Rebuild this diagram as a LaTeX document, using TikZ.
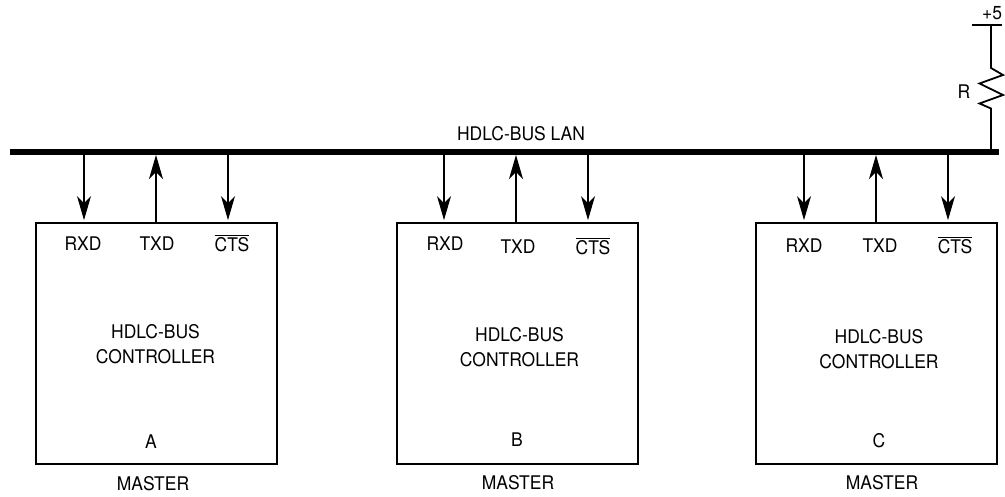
\documentclass[tikz,border=0pt]{standalone}
\usepackage{fontspec}
\setmainfont[FakeStretch=0.93]{TeX Gyre Heros}
\usepackage{amsmath}
\usetikzlibrary{arrows.meta,positioning}

\begin{document}
\begin{tikzpicture}[
            x=0.5pt, y=-0.5pt,
            ctrl/.style={draw, line width=1pt, minimum width=120.5pt, minimum height=120.5pt, inner sep=0pt},
            lbl/.style={inner sep=0pt, font=\fontsize{9.4}{12.5}\selectfont, align=center},
            busline/.style={fill=black, inner sep=0pt, minimum width=494.5pt, minimum height=2.6pt},
            arr/.style={-{Stealth[length=12pt, width=7pt, inset=3.5pt]}, line width=0.55pt},
            arrd/.style={arr, shorten >=0.7pt},
            wire/.style={line width=0.75pt}
        ]
            \useasboundingbox (0,0) rectangle (1005,497);
            % bus and pull-up
            \node[busline] (bus) at (504.5,152) {};
            \node[lbl] (lan) at (521,134) {HDLC-BUS LAN};
            \node[lbl] (vcc) at (992,13) {+5};
            \node[lbl] (rlabel) at (964,92) {R};
            \coordinate (railL) at (972,25);
            \coordinate (railR) at (1002,25);
            \coordinate (rtop) at (991,25);
            \coordinate (rbot) at (991,150);
            \draw[wire] (railL) -- (railR);
            \draw[wire, line width=0.9pt] (rtop) -- (991,68) -- (1003,75) -- (979.5,83.5) -- (1003,95) -- (979.5,103.5) -- (991,108.5) -- (rbot);
            % controller boxes
            \node[ctrl] (boxA) at (156.5,343) {};
            \node[ctrl] (boxB) at (517,343) {};
            \node[ctrl] (boxC) at (876.5,343) {};
            \node[lbl] (rxdA) at (83,244)  {RXD};
            \node[lbl] (txdA) at (157,244) {TXD};
            \node[lbl] (ctsA) at (232,243) {$\overline{\mbox{CTS}}$};
            \node[lbl] (rxdB) at (445,244) {RXD};
            \node[lbl] (txdB) at (518,247) {TXD};
            \node[lbl] (ctsB) at (593,246) {$\overline{\mbox{CTS}}$};
            \node[lbl] (rxdC) at (804,246) {RXD};
            \node[lbl] (txdC) at (880,246) {TXD};
            \node[lbl] (ctsC) at (955,245) {$\overline{\mbox{CTS}}$};
            \node[lbl] (nameA) at (155.5,344) {HDLC-BUS\\CONTROLLER};
            \node[lbl] (nameB) at (519.5,347.5) {HDLC-BUS\\CONTROLLER};
            \node[lbl] (nameC) at (879,349) {HDLC-BUS\\CONTROLLER};
            \node[lbl] (idA) at (151,442) {A};
            \node[lbl] (idB) at (517,440) {B};
            \node[lbl] (idC) at (879,441) {C};
            \node[lbl] (masterA) at (153,484) {MASTER};
            \node[lbl] (masterB) at (518,483) {MASTER};
            \node[lbl] (masterC) at (882,483) {MASTER};
            % signal arrows
            \coordinate (pinA1) at (84,223);
            \coordinate (pinA2) at (156,223);
            \coordinate (pinA3) at (228,223);
            \coordinate (pinB1) at (444,223);
            \coordinate (pinB2) at (516,223);
            \coordinate (pinB3) at (588,223);
            \coordinate (pinC1) at (804,223);
            \coordinate (pinC2) at (876,223);
            \coordinate (pinC3) at (948,223);
            \draw[arrd] (pinA1 |- bus.south) -- (pinA1 |- boxA.north);
            \draw[arr]  (pinA2 |- boxA.north) -- (pinA2 |- bus.south);
            \draw[arrd] (pinA3 |- bus.south) -- (pinA3 |- boxA.north);
            \draw[arrd] (pinB1 |- bus.south) -- (pinB1 |- boxB.north);
            \draw[arr]  (pinB2 |- boxB.north) -- (pinB2 |- bus.south);
            \draw[arrd] (pinB3 |- bus.south) -- (pinB3 |- boxB.north);
            \draw[arrd] (pinC1 |- bus.south) -- (pinC1 |- boxC.north);
            \draw[arr]  (pinC2 |- boxC.north) -- (pinC2 |- bus.south);
            \draw[arrd] (pinC3 |- bus.south) -- (pinC3 |- boxC.north);
        \end{tikzpicture}
\end{document}
